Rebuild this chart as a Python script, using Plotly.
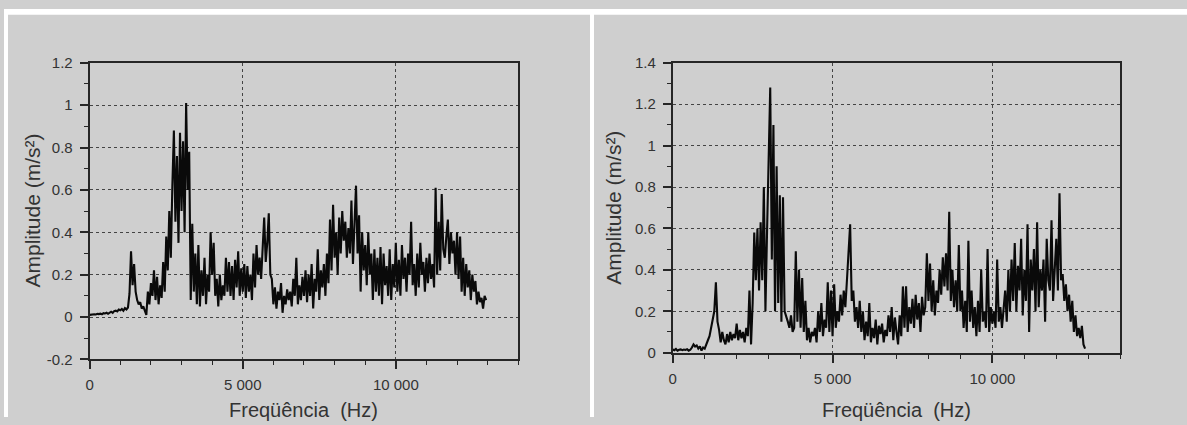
import plotly.graph_objects as go

# ---------------- data ----------------
FREQ_STEP_HZ = 50  # spectrum bin spacing (Hz)

# Left spectrum amplitudes (m/s^2), one value per 50 Hz bin starting at 0 Hz
amp_left = [
    0.010, 0.012, 0.011, 0.013, 0.012, 0.015, 0.014, 0.016, 0.013, 0.018, 0.017, 0.020, 0.015, 0.022, 0.025, 0.020, 0.028, 0.030, 0.026, 0.035,
    0.032, 0.038, 0.030, 0.042, 0.036, 0.045, 0.110, 0.310, 0.150, 0.250, 0.120, 0.080, 0.060, 0.070, 0.040, 0.050, 0.030, 0.010, 0.120, 0.060,
    0.160, 0.100, 0.220, 0.080, 0.190, 0.060, 0.150, 0.090, 0.260, 0.120, 0.380, 0.220, 0.500, 0.280, 0.620, 0.880, 0.450, 0.760, 0.350, 0.870,
    0.500, 0.830, 0.400, 1.010, 0.600, 0.780, 0.080, 0.440, 0.120, 0.300, 0.060, 0.340, 0.050, 0.220, 0.100, 0.280, 0.060, 0.200, 0.120, 0.400,
    0.200, 0.350, 0.100, 0.180, 0.050, 0.200, 0.080, 0.150, 0.100, 0.280, 0.120, 0.260, 0.100, 0.240, 0.080, 0.270, 0.140, 0.310, 0.100, 0.230,
    0.120, 0.250, 0.090, 0.240, 0.120, 0.200, 0.080, 0.300, 0.140, 0.340, 0.200, 0.280, 0.180, 0.320, 0.470, 0.260, 0.350, 0.490, 0.200, 0.180,
    0.060, 0.140, 0.040, 0.120, 0.080, 0.160, 0.020, 0.100, 0.060, 0.130, 0.080, 0.120, 0.050, 0.180, 0.100, 0.280, 0.060, 0.150, 0.080, 0.190,
    0.100, 0.220, 0.070, 0.200, 0.100, 0.250, 0.040, 0.180, 0.120, 0.320, 0.080, 0.220, 0.140, 0.250, 0.100, 0.300, 0.160, 0.460, 0.220, 0.530,
    0.280, 0.400, 0.200, 0.470, 0.300, 0.500, 0.360, 0.450, 0.280, 0.420, 0.300, 0.550, 0.250, 0.440, 0.620, 0.300, 0.480, 0.120, 0.400, 0.220,
    0.340, 0.150, 0.400, 0.200, 0.300, 0.080, 0.320, 0.120, 0.280, 0.100, 0.330, 0.060, 0.300, 0.150, 0.240, 0.100, 0.320, 0.080, 0.250, 0.140,
    0.350, 0.120, 0.270, 0.100, 0.340, 0.180, 0.280, 0.120, 0.300, 0.200, 0.450, 0.150, 0.250, 0.100, 0.300, 0.140, 0.350, 0.200, 0.260, 0.120,
    0.280, 0.160, 0.300, 0.180, 0.250, 0.140, 0.610, 0.200, 0.450, 0.220, 0.580, 0.320, 0.280, 0.380, 0.460, 0.250, 0.400, 0.300, 0.360, 0.200,
    0.400, 0.180, 0.380, 0.120, 0.280, 0.100, 0.250, 0.140, 0.220, 0.080, 0.200, 0.120, 0.170, 0.060, 0.120, 0.070, 0.090, 0.040, 0.100, 0.080,
]

# Right spectrum amplitudes (m/s^2), one value per 50 Hz bin starting at 0 Hz
amp_right = [
    0.015, 0.012, 0.018, 0.010, 0.014, 0.016, 0.012, 0.015, 0.013, 0.017, 0.010, 0.014, 0.025, 0.040, 0.030, 0.035, 0.020, 0.030, 0.010, 0.025,
    0.020, 0.045, 0.060, 0.080, 0.120, 0.160, 0.200, 0.340, 0.150, 0.110, 0.050, 0.100, 0.060, 0.040, 0.090, 0.050, 0.100, 0.060, 0.090, 0.070,
    0.140, 0.060, 0.110, 0.070, 0.100, 0.050, 0.120, 0.080, 0.300, 0.040, 0.240, 0.580, 0.350, 0.600, 0.300, 0.630, 0.350, 0.800, 0.200, 0.580,
    0.880, 1.280, 0.450, 1.100, 0.200, 0.900, 0.240, 0.760, 0.150, 0.750, 0.200, 0.180, 0.150, 0.120, 0.180, 0.100, 0.120, 0.490, 0.150, 0.400,
    0.120, 0.360, 0.100, 0.250, 0.060, 0.120, 0.050, 0.100, 0.080, 0.120, 0.050, 0.200, 0.100, 0.240, 0.080, 0.160, 0.120, 0.340, 0.100, 0.300,
    0.080, 0.330, 0.120, 0.200, 0.150, 0.280, 0.180, 0.300, 0.220, 0.350, 0.470, 0.620, 0.250, 0.300, 0.150, 0.220, 0.120, 0.250, 0.100, 0.200,
    0.060, 0.150, 0.080, 0.240, 0.050, 0.120, 0.070, 0.160, 0.040, 0.130, 0.090, 0.140, 0.050, 0.110, 0.080, 0.180, 0.100, 0.220, 0.060, 0.170,
    0.100, 0.040, 0.180, 0.080, 0.320, 0.120, 0.320, 0.100, 0.220, 0.140, 0.260, 0.120, 0.280, 0.160, 0.240, 0.100, 0.270, 0.180, 0.220, 0.480,
    0.250, 0.430, 0.200, 0.350, 0.180, 0.300, 0.240, 0.400, 0.280, 0.460, 0.320, 0.480, 0.300, 0.680, 0.250, 0.400, 0.220, 0.350, 0.200, 0.520,
    0.200, 0.300, 0.120, 0.250, 0.100, 0.540, 0.150, 0.300, 0.120, 0.220, 0.080, 0.250, 0.100, 0.400, 0.150, 0.200, 0.120, 0.500, 0.100, 0.220,
    0.140, 0.200, 0.120, 0.450, 0.150, 0.220, 0.120, 0.200, 0.300, 0.150, 0.400, 0.200, 0.450, 0.250, 0.530, 0.200, 0.420, 0.300, 0.550, 0.180,
    0.400, 0.250, 0.620, 0.100, 0.450, 0.300, 0.500, 0.200, 0.630, 0.220, 0.400, 0.300, 0.450, 0.150, 0.550, 0.350, 0.300, 0.640, 0.250, 0.400,
    0.550, 0.300, 0.770, 0.350, 0.380, 0.250, 0.330, 0.200, 0.280, 0.150, 0.250, 0.100, 0.180, 0.080, 0.120, 0.070, 0.130, 0.040, 0.020,
]

freq_left = [i * FREQ_STEP_HZ for i in range(len(amp_left))]
freq_right = [i * FREQ_STEP_HZ for i in range(len(amp_right))]

x_tickvals = [0, 5000, 10000]
x_ticktext = ["0", "5 000", "10 000"]
yl_tickvals = [-0.2, 0, 0.2, 0.4, 0.6, 0.8, 1.0, 1.2]
yl_ticktext = ["-0.2", "0", "0.2", "0.4", "0.6", "0.8", "1", "1.2"]
yr_tickvals = [0, 0.2, 0.4, 0.6, 0.8, 1.0, 1.2, 1.4]
yr_ticktext = ["0", "0.2", "0.4", "0.6", "0.8", "1", "1.2", "1.4"]

x_title = "Freqüência  (Hz)"
y_title = "Amplitude (m/s²)"

# ---------------- figure ----------------
W, H = 1187, 425
BG = "#cfcfcf"
AX = "#262626"
TXT = "#333333"
FONT = "Liberation Sans, Arial, sans-serif"

fig = go.Figure()
fig.add_trace(go.Scatter(x=freq_left, y=amp_left, mode="lines",
                         line=dict(color="#0a0a0a", width=2.1),
                         xaxis="x", yaxis="y", showlegend=False))
fig.add_trace(go.Scatter(x=freq_right, y=amp_right, mode="lines",
                         line=dict(color="#0a0a0a", width=2.1),
                         xaxis="x2", yaxis="y2", showlegend=False))


def px_x(v):
    return v / W


def px_y(v):
    return 1 - v / H


def xaxis_cfg(dom, anchor):
    return dict(
        domain=dom, anchor=anchor, range=[0, 14000],
        tickmode="array", tickvals=x_tickvals, ticktext=x_ticktext,
        ticks="outside", ticklen=8, tickwidth=1.5, tickcolor=AX,
        ticklabelstandoff=3,
        minor=dict(dtick=1000, tick0=0, ticks="outside", ticklen=4, tickwidth=1.2,
                   tickcolor=AX, showgrid=False),
        showline=True, linecolor=AX, linewidth=2, mirror=True,
        showgrid=True, gridcolor="#444444", griddash="dot", gridwidth=1,
        zeroline=False,
        tickfont=dict(family=FONT, size=15, color=TXT),
    )


def yaxis_cfg(dom, anchor, rng, tv, tt):
    return dict(
        domain=dom, anchor=anchor, range=rng,
        tickmode="array", tickvals=tv, ticktext=tt,
        ticks="outside", ticklen=8, tickwidth=1.5, tickcolor=AX,
        ticklabelstandoff=4,
        minor=dict(dtick=0.1, tick0=0, ticks="outside", ticklen=4, tickwidth=1.2,
                   tickcolor=AX, showgrid=False),
        showline=True, linecolor=AX, linewidth=2, mirror=True,
        showgrid=True, gridcolor="#444444", griddash="dot", gridwidth=1,
        zeroline=False,
        tickfont=dict(family=FONT, size=15, color=TXT),
    )


# pixel positions (page coordinates) of the plot frames
L_x0, L_x1, L_top, L_bot = 86, 516, 56, 365
R_x0, R_x1, R_top, R_bot = 671, 1120, 56, 358

fig.update_layout(
    width=W, height=H,
    margin=dict(l=0, r=0, t=0, b=0),
    paper_bgcolor=BG, plot_bgcolor=BG,
    xaxis=xaxis_cfg([px_x(L_x0), px_x(L_x1)], "y"),
    yaxis=yaxis_cfg([px_y(L_bot), px_y(L_top)], "x", [-0.2, 1.2], yl_tickvals, yl_ticktext),
    xaxis2=xaxis_cfg([px_x(R_x0), px_x(R_x1)], "y2"),
    yaxis2=yaxis_cfg([px_y(R_bot), px_y(R_top)], "x2", [0, 1.4], yr_tickvals, yr_ticktext),
    shapes=[
        dict(type="rect", xref="paper", yref="paper", x0=0, x1=1, y0=px_y(6), y1=1,
             fillcolor="white", line=dict(width=0), layer="below"),
        dict(type="rect", xref="paper", yref="paper", x0=0, x1=px_x(4), y0=0, y1=1,
             fillcolor="white", line=dict(width=0), layer="below"),
        dict(type="rect", xref="paper", yref="paper", x0=px_x(588), x1=px_x(592), y0=0, y1=1,
             fillcolor="white", line=dict(width=0), layer="below"),
    ],
    annotations=[
        dict(text=x_title, xref="paper", yref="paper", x=px_x((L_x0 + L_x1) / 2), y=px_y(418),
             showarrow=False, xanchor="center", yanchor="middle",
             font=dict(family=FONT, size=20, color=TXT)),
        dict(text=x_title, xref="paper", yref="paper", x=px_x((R_x0 + R_x1) / 2), y=px_y(418),
             showarrow=False, xanchor="center", yanchor="middle",
             font=dict(family=FONT, size=20, color=TXT)),
        dict(text=y_title, xref="paper", yref="paper", x=px_x(29), y=px_y(210), textangle=-90,
             showarrow=False, xanchor="center", yanchor="middle",
             font=dict(family=FONT, size=21, color=TXT)),
        dict(text=y_title, xref="paper", yref="paper", x=px_x(612), y=px_y(207), textangle=-90,
             showarrow=False, xanchor="center", yanchor="middle",
             font=dict(family=FONT, size=21, color=TXT)),
    ],
)

# pin the chart to the top-left corner of the page so no body margin shifts it
pin_js = (
    "document.documentElement.style.margin='0';"
    "document.body.style.margin='0';document.body.style.overflow='hidden';"
    "var gd=document.getElementById('{plot_id}');"
    "gd.style.position='fixed';gd.style.left='0px';gd.style.top='0px';"
)

fig.write_html("out.html", post_script=pin_js, config={"displayModeBar": False})
